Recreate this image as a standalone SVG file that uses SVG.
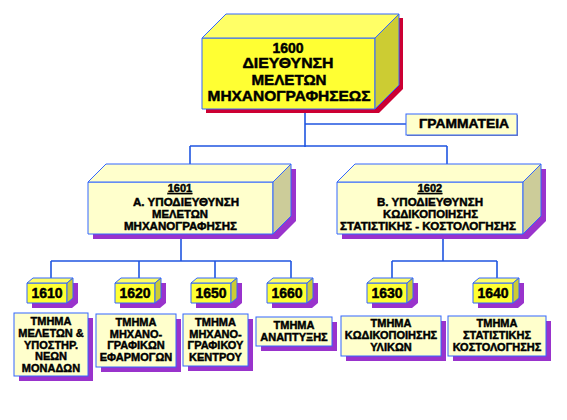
<svg xmlns="http://www.w3.org/2000/svg" width="567" height="420" viewBox="0 0 567 420">
<style>
text{font-family:"Liberation Sans",Arial,sans-serif;font-weight:bold;fill:#000;stroke:#000;stroke-width:0.45;text-anchor:middle}
.t14{font-size:14px}.t11{font-size:11px}.t13{font-size:14px}
.edge{stroke:#3366ff;stroke-width:1}
.conn line{stroke:#1f55e0;stroke-width:1.6}
.front1{fill:#ffff33}.top1{fill:#ffff66}.side1{fill:#cccc33}
.front2{fill:#ffffcc}.top2{fill:#ffffcc}.side2{fill:#cccc99}
.red{fill:#cc0033}.pur{fill:#9933cc}
.lab{fill:#ffffcc;stroke:#3366ff;stroke-width:1}
</style>
<rect width="567" height="420" fill="#fff"/>
<g class="conn">
<line x1="305" y1="108" x2="305" y2="147"/>
<line x1="305" y1="124" x2="406" y2="124"/>
<line x1="190" y1="146" x2="447" y2="146"/>
<line x1="190" y1="146" x2="190" y2="166"/>
<line x1="447" y1="146" x2="447" y2="166"/>
<line x1="181" y1="232" x2="181" y2="261"/>
<line x1="51" y1="261" x2="291" y2="261"/>
<line x1="51" y1="261" x2="51" y2="280"/>
<line x1="139" y1="261" x2="139" y2="280"/>
<line x1="215" y1="261" x2="215" y2="280"/>
<line x1="291" y1="261" x2="291" y2="280"/>
<line x1="443" y1="232" x2="443" y2="261"/>
<line x1="392" y1="261" x2="497" y2="261"/>
<line x1="392" y1="261" x2="392" y2="280"/>
<line x1="497" y1="261" x2="497" y2="280"/>
</g>
<g id="n1600">
<polygon class="red" points="206,42 230,18 403,18 403,89 379,113 206,113"/>
<polygon class="front1 edge" points="202,38 375,38 375,109 202,109"/>
<polygon class="top1 edge" points="202,38 226,14 399,14 375,38"/>
<polygon class="side1 edge" points="375,38 399,14 399,85 375,109"/>
<text class="t14" x="288" y="53">1600</text>
<text class="t14" x="288" y="68" textLength="91" lengthAdjust="spacingAndGlyphs">ΔΙΕΥΘΥΝΣΗ</text>
<text class="t14" x="289" y="85" textLength="75" lengthAdjust="spacingAndGlyphs">ΜΕΛΕΤΩΝ</text>
<text class="t14" x="289" y="101" textLength="163" lengthAdjust="spacingAndGlyphs">ΜΗΧΑΝΟΓΡΑΦΗΣΕΩΣ</text>
</g>
<g id="secretariat">
<rect x="407" y="115" width="111" height="21" fill="#8080a0"/>
<rect class="lab" x="406" y="114" width="111" height="21"/>
<text x="464" y="128" style="font-size:12.5px" textLength="90" lengthAdjust="spacingAndGlyphs">ΓΡΑΜΜΑΤΕΙΑ</text>
</g>
<g id="n1601">
<polygon class="pur" points="93,187 111,169 296,169 296,221 278,239 93,239"/>
<polygon class="front2 edge" points="88,182 273,182 273,234 88,234"/>
<polygon class="top2 edge" points="88,182 106,164 291,164 273,182"/>
<polygon class="side2 edge" points="273,182 291,164 291,216 273,234"/>
<text class="t11" x="180" y="192" text-decoration="underline">1601</text>
<text class="t11" x="186" y="205.5" textLength="106" lengthAdjust="spacingAndGlyphs">Α. ΥΠΟΔΙΕΥΘΥΝΣΗ</text>
<text class="t11" x="180" y="217.5" textLength="56" lengthAdjust="spacingAndGlyphs">ΜΕΛΕΤΩΝ</text>
<text class="t11" x="180.5" y="230" textLength="113" lengthAdjust="spacingAndGlyphs">ΜΗΧΑΝΟΓΡΑΦΗΣΗΣ</text>
</g>
<g id="n1602">
<polygon class="pur" points="342,187 360,169 546,169 546,221 528,239 342,239"/>
<polygon class="front2 edge" points="337,182 523,182 523,234 337,234"/>
<polygon class="top2 edge" points="337,182 355,164 541,164 523,182"/>
<polygon class="side2 edge" points="523,182 541,164 541,216 523,234"/>
<text class="t11" x="430" y="192" text-decoration="underline">1602</text>
<text class="t11" x="430" y="205.5" textLength="106" lengthAdjust="spacingAndGlyphs">Β. ΥΠΟΔΙΕΥΘΥΝΣΗ</text>
<text class="t11" x="430.5" y="217.5" textLength="95" lengthAdjust="spacingAndGlyphs">ΚΩΔΙΚΟΠΟΙΗΣΗΣ</text>
<text class="t11" x="428" y="230" textLength="176" lengthAdjust="spacingAndGlyphs">ΣΤΑΤΙΣΤΙΚΗΣ - ΚΟΣΤΟΛΟΓΗΣΗΣ</text>
</g>
<defs>
<g id="cube">
<polygon class="pur" points="5,288 11,283 51,283 51,303 45,308 5,308"/>
<polygon class="front1 edge" points="0,283 40,283 40,303 0,303"/>
<polygon class="top1 edge" points="0,283 6,278 46,278 40,283"/>
<polygon class="side1 edge" points="40,283 46,278 46,298 40,303"/>
</g>
</defs>
<g id="n1610">
<use href="#cube" x="27"/>
<text class="t13" x="47" y="298">1610</text>
<rect class="pur" x="19" y="318" width="74" height="63"/>
<rect class="lab" x="14" y="313" width="74" height="63"/>
<text class="t11" x="51" y="325">ΤΜΗΜΑ</text>
<text class="t11" x="51" y="336.5">ΜΕΛΕΤΩΝ &amp;</text>
<text class="t11" x="51" y="348.5">ΥΠΟΣΤΗΡ.</text>
<text class="t11" x="51" y="360">ΝΕΩΝ</text>
<text class="t11" x="51" y="371.5">ΜΟΝΑΔΩΝ</text>
</g>
<g id="n1620">
<use href="#cube" x="115"/>
<text class="t13" x="135" y="298">1620</text>
<rect class="pur" x="101" y="319" width="80" height="53"/>
<rect class="lab" x="96" y="314" width="80" height="53"/>
<text class="t11" x="136" y="326">ΤΜΗΜΑ</text>
<text class="t11" x="136" y="337.5">ΜΗΧΑΝΟ-</text>
<text class="t11" x="136" y="349">ΓΡΑΦΙΚΩΝ</text>
<text class="t11" x="136" y="361">ΕΦΑΡΜΟΓΩΝ</text>
</g>
<g id="n1650">
<use href="#cube" x="191"/>
<text class="t13" x="211" y="298">1650</text>
<rect class="pur" x="188" y="319" width="65" height="52"/>
<rect class="lab" x="183" y="314" width="65" height="52"/>
<text class="t11" x="215.5" y="326">ΤΜΗΜΑ</text>
<text class="t11" x="215.5" y="337.5">ΜΗΧΑΝΟ-</text>
<text class="t11" x="215.5" y="349">ΓΡΑΦΙΚΟΥ</text>
<text class="t11" x="215.5" y="361">ΚΕΝΤΡΟΥ</text>
</g>
<g id="n1660">
<use href="#cube" x="267"/>
<text class="t13" x="287" y="298">1660</text>
<rect class="pur" x="261" y="322" width="76" height="29"/>
<rect class="lab" x="256" y="317" width="76" height="29"/>
<text class="t11" x="294" y="329">ΤΜΗΜΑ</text>
<text class="t11" x="294" y="341">ΑΝΑΠΤΥΞΗΣ</text>
</g>
<g id="n1630">
<use href="#cube" x="367"/>
<text class="t13" x="387" y="298">1630</text>
<rect class="pur" x="346" y="321" width="100" height="40"/>
<rect class="lab" x="341" y="316" width="100" height="40"/>
<text class="t11" x="391" y="327">ΤΜΗΜΑ</text>
<text class="t11" x="391" y="339">ΚΩΔΙΚΟΠΟΙΗΣΗΣ</text>
<text class="t11" x="391" y="351">ΥΛΙΚΩΝ</text>
</g>
<g id="n1640">
<use href="#cube" x="473"/>
<text class="t13" x="493" y="298">1640</text>
<rect class="pur" x="453" y="321" width="98" height="40"/>
<rect class="lab" x="448" y="316" width="98" height="40"/>
<text class="t11" x="497" y="327">ΤΜΗΜΑ</text>
<text class="t11" x="497" y="339">ΣΤΑΤΙΣΤΙΚΗΣ</text>
<text class="t11" x="497" y="351">ΚΟΣΤΟΛΟΓΗΣΗΣ</text>
</g>
</svg>
